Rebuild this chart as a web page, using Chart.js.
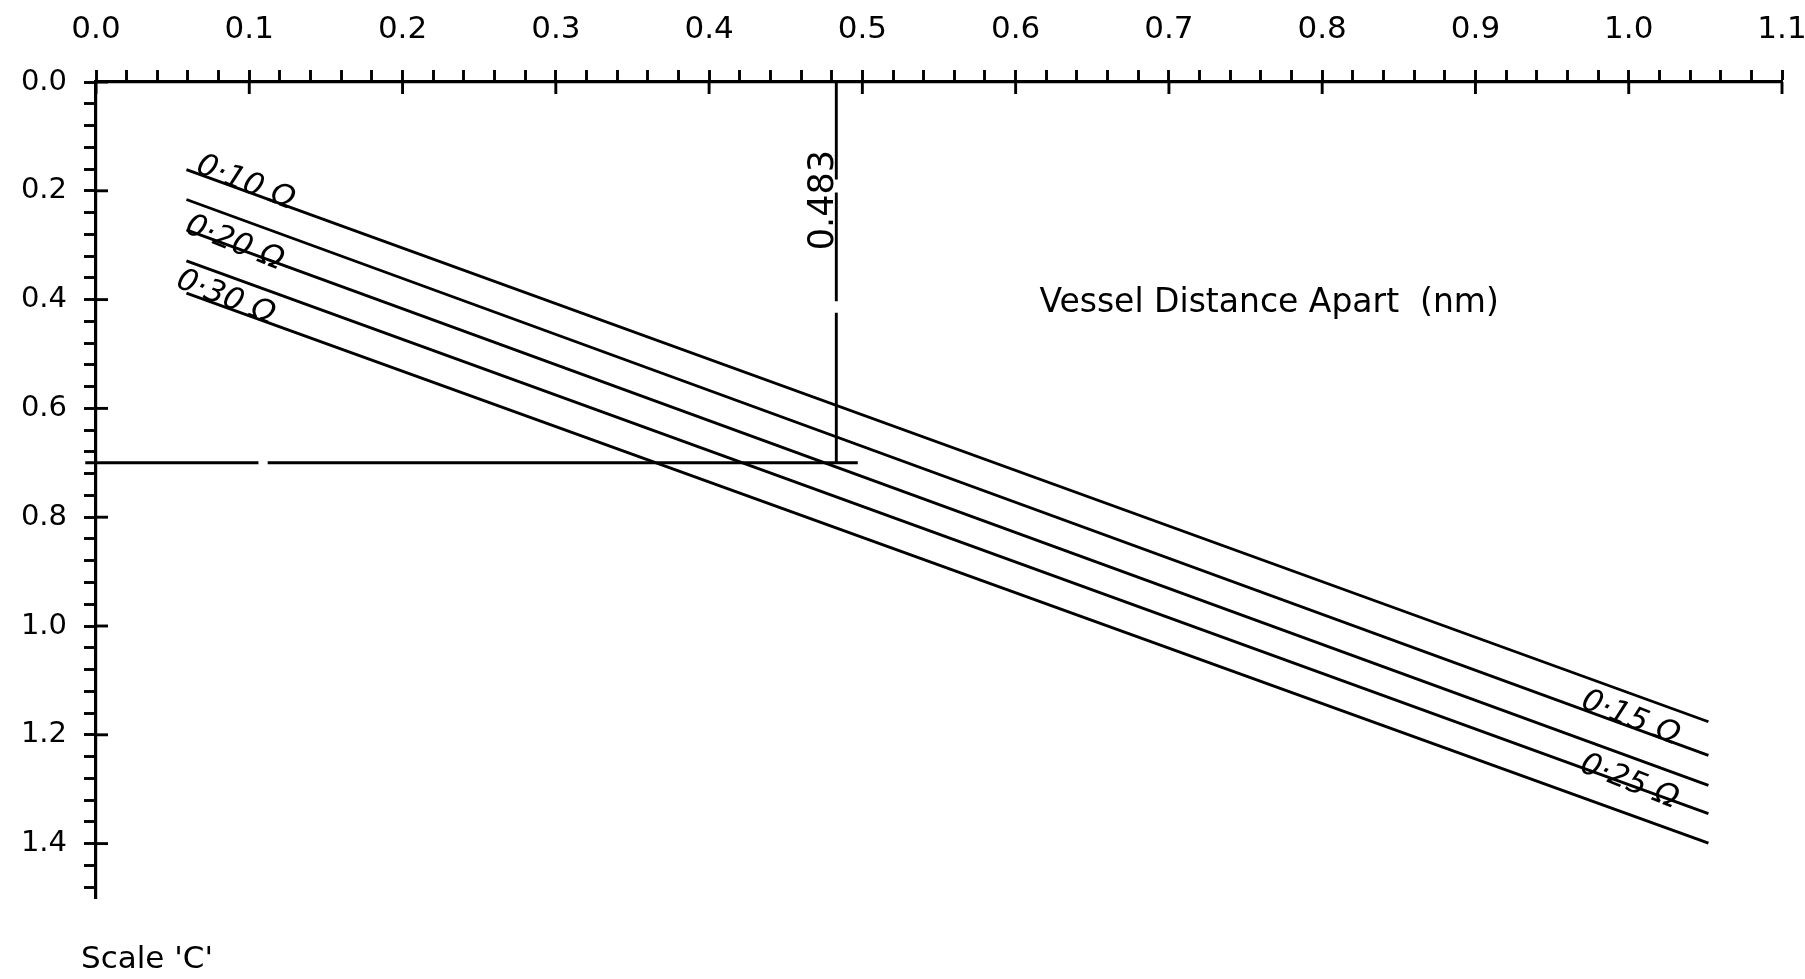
<!DOCTYPE html>
<html>
<head>
<meta charset="utf-8">
<title>Scale 'C' - Vessel Distance Apart</title>
<script src="https://cdn.jsdelivr.net/npm/chart.js@4.4.0/dist/chart.umd.min.js"></script>
<style>
    html, body { margin: 0; padding: 0; background: #fff; }
    #wrap { width: 1805px; height: 979px; position: relative; }
</style>
</head>
<body>
<div id="wrap"><canvas id="myChart"></canvas></div>
<script>
//--- Axis data
var xTickLabels = ['0.0', '0.1', '0.2', '0.3', '0.4', '0.5', '0.6', '0.7', '0.8', '0.9', '1.0', '1.1'];
var yTickLabels = ['0.0', '0.2', '0.4', '0.6', '0.8', '1.0', '1.2', '1.4'];
var xMinorStep = 0.02;
var yMinorStep = 0.04;
var xMax = 1.1;
var yMax = 1.5;

//--- Resistance lines (ohms)
var resistances = ['0.10', '0.15', '0.20', '0.25', '0.30'];
var lineStartX = [0.059, 0.059, 0.059, 0.059, 0.059];
var lineEndX = [1.052, 1.052, 1.052, 1.052, 1.052];
var lineStartY = [0.161, 0.216, 0.272, 0.329, 0.388];
var lineEndY = [1.176, 1.238, 1.293, 1.345, 1.399];

//--- Reading lines (null = pen gap)
var readingX = 0.483;
var readingLabel = '0.483';
var vertLineY = [0, 0.179, null, 0.203, 0.403, null, 0.424, 0.70];
var readingY = 0.70;
var horizLineX = [-0.007, 0.106, null, 0.112, 0.497];

//--- Handwritten labels, anchored in data units
var curveLabelX = [0.0975, 1.001, 0.0903, 1.0003, 0.0845];
var curveLabelY = [0.186, 1.170, 0.297, 1.287, 0.397];
var readingLabelY = 0.217;
var axisTitle = 'Vessel Distance Apart  (nm)';
var axisTitleX = 0.6155;
var axisTitleY = 0.407;
var scaleName = "Scale 'C'";

var FONT = 'DejaVu Sans';
var INK = '#000';
var PEN = 2.9;

function buildTicks(step, max) {
    var list = [];
    var n = Math.round(max / step);
    for (var i = 0; i <= n; i++) {
        list.push({ value: Math.round(i * step * 1000) / 1000 });
    }
    return list;
}

function labelFor(list, v) {
    var hit = list.find(function (t) { return Math.abs(parseFloat(t) - v) < 1e-6; });
    return hit || '';
}

//--- Datasets
var datasets = resistances.map(function (r, i) {
    return {
        label: r + ' \u03A9',
        data: [{ x: lineStartX[i], y: lineStartY[i] }, { x: lineEndX[i], y: lineEndY[i] }],
        showLine: true,
        borderColor: INK,
        borderWidth: PEN,
        pointRadius: 0
    };
});
datasets.push({
    label: 'reading vertical',
    data: vertLineY.map(function (v) { return { x: readingX, y: v }; }),
    showLine: true,
    borderColor: INK,
    borderWidth: PEN,
    pointRadius: 0,
    spanGaps: false
});
datasets.push({
    label: 'reading horizontal',
    data: horizLineX.map(function (v) { return { x: v, y: readingY }; }),
    showLine: true,
    borderColor: INK,
    borderWidth: PEN,
    pointRadius: 0,
    spanGaps: false,
    clip: false
});

//--- Plugin: major ticks crossing the axes + hand labels
var annotate = {
    id: 'annotate',
    afterDraw: function (chart) {
        var ctx = chart.ctx;
        var sx = chart.scales.x;
        var sy = chart.scales.y;
        var area = chart.chartArea;
        ctx.save();
        ctx.strokeStyle = INK;
        ctx.lineWidth = PEN;
        xTickLabels.forEach(function (t) {
            var px = sx.getPixelForValue(parseFloat(t));
            ctx.beginPath();
            ctx.moveTo(px, area.top);
            ctx.lineTo(px, area.top + 12);
            ctx.stroke();
        });
        yTickLabels.forEach(function (t) {
            var py = sy.getPixelForValue(parseFloat(t));
            ctx.beginPath();
            ctx.moveTo(area.left, py);
            ctx.lineTo(area.left + 12, py);
            ctx.stroke();
        });

        // curve labels, turned along each line
        ctx.fillStyle = INK;
        ctx.textAlign = 'center';
        ctx.textBaseline = 'middle';
        ctx.font = 'italic 31px "' + FONT + '"';
        resistances.forEach(function (r, i) {
            var ang = Math.atan2(sy.getPixelForValue(lineEndY[i]) - sy.getPixelForValue(lineStartY[i]),
                sx.getPixelForValue(lineEndX[i]) - sx.getPixelForValue(lineStartX[i]));
            ctx.save();
            ctx.translate(sx.getPixelForValue(curveLabelX[i]), sy.getPixelForValue(curveLabelY[i]));
            ctx.rotate(ang + 0.03);
            ctx.fillText(r.replace('.', '\u00B7') + ' \u03A9', 0, 0);
            ctx.restore();
        });

        // value written along the vertical reading line
        ctx.save();
        ctx.translate(sx.getPixelForValue(readingX) - 12, sy.getPixelForValue(readingLabelY));
        ctx.rotate(-Math.PI / 2);
        ctx.font = '35px "' + FONT + '"';
        ctx.fillText(readingLabel, 0, 0);
        ctx.restore();

        // axis title inside the plot
        ctx.font = '33px "' + FONT + '"';
        ctx.textAlign = 'left';
        ctx.fillText(axisTitle, sx.getPixelForValue(axisTitleX), sy.getPixelForValue(axisTitleY));

        // scale name under the y axis
        ctx.font = '31px "' + FONT + '"';
        ctx.fillText(scaleName, area.left - 15, area.bottom + 62);
        ctx.restore();
    }
};

//--- Chart
var ctx = document.getElementById('myChart');
new Chart(ctx, {
    type: 'scatter',
    data: { datasets: datasets },
    plugins: [annotate],
    options: {
        responsive: true,
        maintainAspectRatio: false,
        animation: false,
        layout: { padding: { top: 0, left: 0, right: 23, bottom: 81 } },
        plugins: {
            legend: { display: false },
            tooltip: { enabled: false }
        },
        scales: {
            x: {
                type: 'linear',
                position: 'top',
                min: 0,
                max: xMax,
                afterBuildTicks: function (scale) { scale.ticks = buildTicks(xMinorStep, xMax); },
                afterFit: function (scale) {
                    scale.height = 82;
                    scale.paddingLeft = 0;
                    scale.paddingRight = 0; // let the last label run off the edge, as in the scan
                },
                border: { display: true, color: INK, width: 3.2 },
                grid: { drawOnChartArea: false, drawTicks: true, tickLength: 12, tickColor: INK, tickWidth: PEN },
                ticks: {
                    autoSkip: false,
                    maxRotation: 0,
                    padding: 21,
                    color: INK,
                    font: { family: FONT, size: 31 },
                    callback: function (v) { return labelFor(xTickLabels, v); }
                }
            },
            y: {
                type: 'linear',
                reverse: true,
                min: 0,
                max: yMax,
                afterBuildTicks: function (scale) { scale.ticks = buildTicks(yMinorStep, yMax - 0.02); },
                afterFit: function (scale) { scale.width = 96; },
                border: { display: true, color: INK, width: 3.2 },
                grid: { drawOnChartArea: false, drawTicks: true, tickLength: 12, tickColor: INK, tickWidth: PEN },
                ticks: {
                    autoSkip: false,
                    padding: 17,
                    color: INK,
                    font: { family: FONT, size: 29 },
                    callback: function (v) { return labelFor(yTickLabels, v); }
                }
            }
        }
    }
});
console.log('chart ready');
</script>
</body>
</html>
